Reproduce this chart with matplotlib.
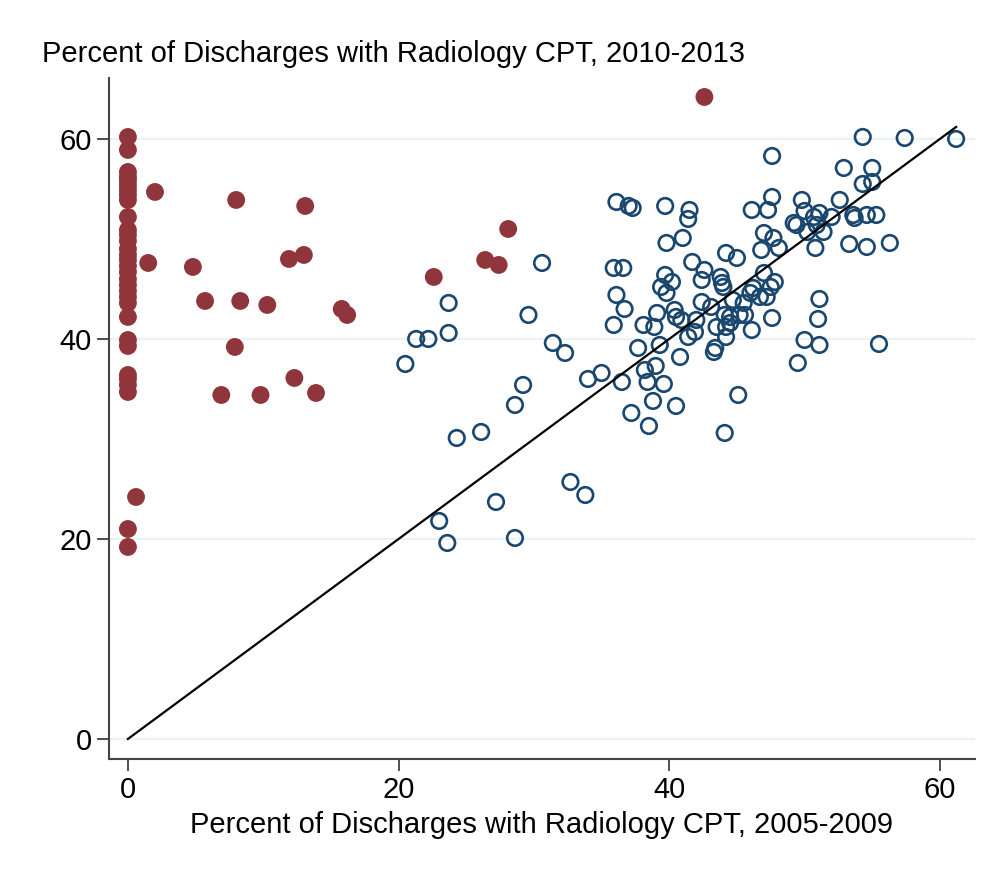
import matplotlib
matplotlib.use("Agg")
import matplotlib.pyplot as plt
import numpy as np

plt.rcParams["font.family"] = ["Liberation Sans", "DejaVu Sans"]

# hospitals with no radiology CPT codes in 2005-2009 (filled red)
red_x = [0.0] * 32 + [0.6, 2.0, 8.0, 1.5, 4.8, 5.7, 8.3, 10.3, 7.9, 6.9, 9.8, 12.3,
                      13.1, 11.9, 13.0, 15.8, 16.2, 13.9, 22.6, 28.1, 26.4, 27.4, 42.6]
red_y = [60.2, 58.9, 56.7, 56.2, 55.9, 55.4, 54.9, 54.4, 53.9, 52.2, 50.9, 50.4,
         49.8, 49.0, 48.4, 47.9, 47.3, 46.7, 46.0, 45.4, 44.8, 44.2, 43.6, 42.2,
         39.9, 39.3, 36.4, 36.0, 35.4, 34.7, 21.0, 19.2,
         24.2, 54.7, 53.9, 47.6, 47.2, 43.8, 43.8, 43.4, 39.2, 34.4, 34.4, 36.1,
         53.3, 48.0, 48.4, 43.0, 42.4, 34.6, 46.2, 51.0, 47.9, 47.4, 64.2]

# remaining hospitals (hollow blue)
blue_x = [20.5, 21.3, 22.2, 23.7, 23.7, 24.3, 26.1, 23.0, 23.6, 27.2, 28.6, 28.6,
          29.2, 29.6, 30.6, 31.4, 32.3, 32.7, 33.8, 34.0, 35.0, 36.5, 37.2,
          36.1, 37.0, 37.3, 39.7, 41.5, 41.4, 39.8, 41.0, 44.2, 45.0, 41.7,
          35.9, 36.6, 42.6, 39.7, 40.2, 42.4, 43.8, 43.9, 39.4, 39.8, 36.1,
          36.7, 42.4, 43.1, 39.1, 40.4, 40.5, 40.9, 38.1, 38.9, 35.9, 42.0,
          43.5, 44.1, 44.5, 41.4, 41.9, 43.4, 44.2, 37.7, 39.3, 40.8, 38.2,
          39.0, 38.4, 39.6, 38.8, 40.5, 38.5, 45.1, 44.1, 43.3,
          46.1, 47.3, 49.2, 49.4, 50.0, 50.7, 51.1, 52.0, 50.2, 51.4, 50.9,
          50.8, 53.6, 54.6, 53.3, 54.6, 47.0, 47.7, 46.8, 48.1, 47.0, 47.8,
          47.5, 46.2, 46.0, 46.7, 47.2, 44.0, 44.7, 45.5, 45.2, 45.6, 44.5,
          44.2, 46.1, 47.6, 51.1, 51.0, 50.0, 51.1, 49.5,
          54.3, 57.4, 61.2, 47.6, 52.9, 55.0, 54.3, 55.0, 47.6, 49.8, 52.6,
          53.7, 55.3, 56.3, 55.5]
blue_y = [37.5, 40.0, 40.0, 40.6, 43.6, 30.1, 30.7, 21.8, 19.6, 23.7, 20.1, 33.4,
          35.4, 42.4, 47.6, 39.6, 38.6, 25.7, 24.4, 36.0, 36.6, 35.7, 32.6,
          53.7, 53.3, 53.1, 53.3, 52.9, 52.0, 49.6, 50.1, 48.6, 48.1, 47.7,
          47.1, 47.1, 46.9, 46.4, 45.7, 45.9, 46.2, 45.6, 45.2, 44.6, 44.4,
          43.0, 43.7, 43.2, 42.6, 42.9, 42.2, 41.9, 41.4, 41.2, 41.4, 41.9,
          41.2, 42.4, 41.6, 40.2, 40.7, 39.1, 40.2, 39.1, 39.4, 38.2, 36.9,
          37.3, 35.7, 35.5, 33.8, 33.3, 31.3, 34.4, 30.6, 38.7,
          52.9, 52.9, 51.6, 51.4, 52.8, 52.2, 52.6, 52.2, 50.7, 50.7, 51.4,
          49.1, 52.4, 52.4, 49.5, 49.2, 50.6, 50.1, 48.9, 49.1, 46.6, 45.7,
          45.2, 45.1, 44.6, 44.2, 44.2, 45.2, 43.9, 43.6, 42.4, 42.4, 42.2,
          41.2, 40.9, 42.1, 44.0, 42.0, 39.9, 39.4, 37.6,
          60.2, 60.1, 60.0, 58.3, 57.1, 57.1, 55.5, 55.7, 54.2, 53.9, 53.9,
          52.1, 52.4, 49.6, 39.5]

y_ticks = [0, 20, 40, 60]
x_ticks = [0, 20, 40, 60]

fig = plt.figure(figsize=(9.97, 8.74), dpi=100)
ax = fig.add_axes([0.1093, 0.1316, 0.8687, 0.7792])

for t in y_ticks:
    ax.axhline(t, color="#EAF2F3", lw=1.6, zorder=0)

ax.scatter(blue_x, blue_y, s=125, facecolors="none", edgecolors="#1A476F",
           linewidths=1.9, zorder=2)
ax.scatter(red_x, red_y, s=165, color="#90353B", edgecolors="none", zorder=3)

# 45 degree reference line
line_end = max(blue_x)
ax.plot([0, line_end], [0, line_end], color="black", lw=1.6, zorder=4)

ax.set_xlim(-1.4, 62.6)
ax.set_ylim(-2.0, 66.1)
ax.set_xticks(x_ticks)
ax.set_yticks(y_ticks)
ax.tick_params(labelsize=21, length=8.5, width=1.2, color="#333333", pad=4)
for side in ["top", "right"]:
    ax.spines[side].set_visible(False)
for side in ["left", "bottom"]:
    ax.spines[side].set_color("#444444")
    ax.spines[side].set_linewidth(1.5)

fig.text(0.042, 0.938, "Percent of Discharges with Radiology CPT, 2010-2013",
         fontsize=21, ha="left", va="center")
fig.text(0.5436, 0.056, "Percent of Discharges with Radiology CPT, 2005-2009",
         fontsize=21, ha="center", va="center")

fig.savefig("out.png", dpi=100, facecolor="white")
